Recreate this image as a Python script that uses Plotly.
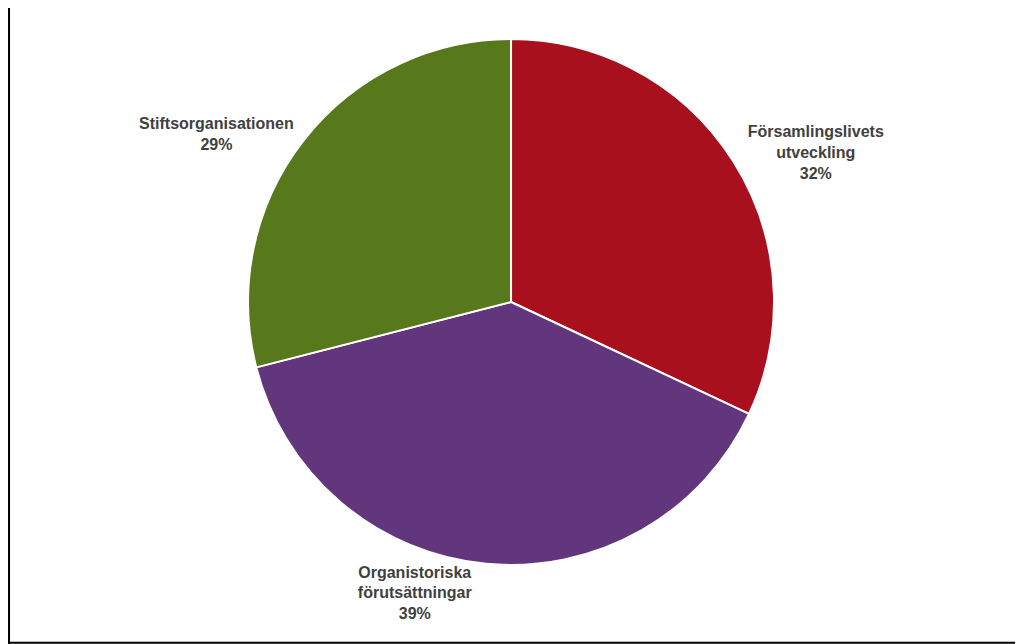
import plotly.graph_objects as go

labels = ["Församlingslivets<br>utveckling", "Organistoriska<br>förutsättningar", "Stiftsorganisationen"]
values = [32, 39, 29]
colors = ["#A8101E", "#62367C", "#57791B"]

fig = go.Figure(go.Pie(
    labels=labels, values=values, sort=False, direction="clockwise", rotation=0,
    marker=dict(colors=colors, line=dict(color="white", width=2)),
    textposition="outside", texttemplate="<b>%{label}<br>%{percent:.0%}</b>",
    textfont=dict(family="Liberation Sans, Arial", size=16, color="#404040"),
    domain=dict(x=[0.2365, 0.7547], y=[0.1242, 0.9513]), showlegend=False,
))
fig.update_layout(
    width=1015, height=636, margin=dict(l=0, r=0, t=0, b=0),
    paper_bgcolor="white", plot_bgcolor="white",
    shapes=[
        dict(type="line", xref="paper", yref="paper", x0=0.001, x1=0.001, y0=0, y1=1, line=dict(color="black", width=2)),
        dict(type="line", xref="paper", yref="paper", x0=0, x1=1, y0=0.002, y1=0.002, line=dict(color="black", width=2)),
    ],
)
fig.write_html("out.html")
